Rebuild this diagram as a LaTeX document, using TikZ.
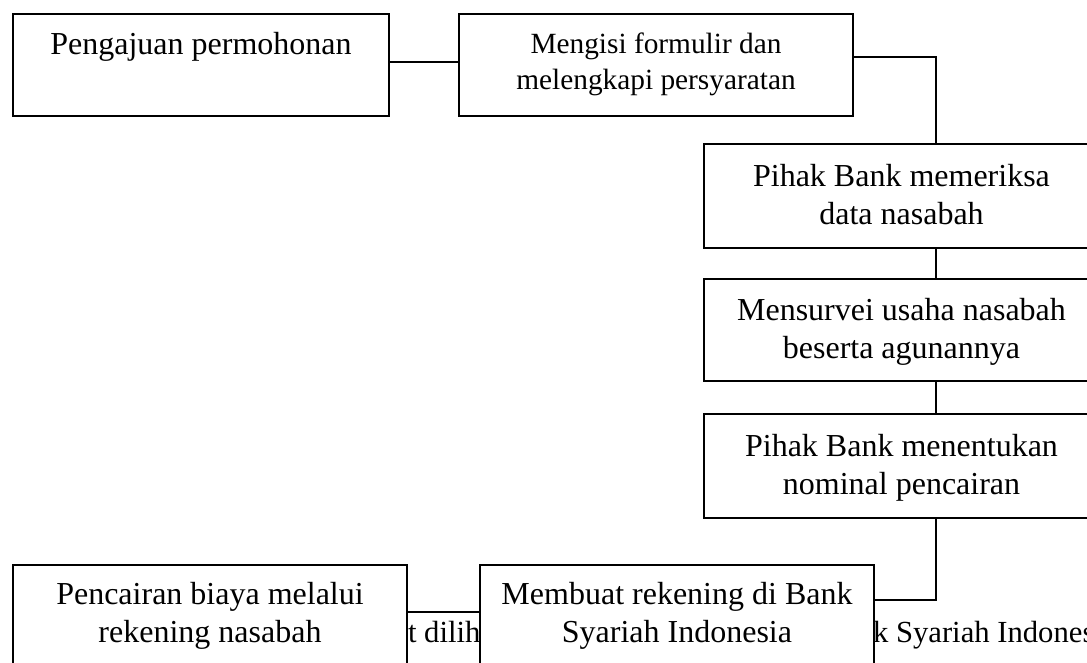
\documentclass[tikz,border=0pt]{standalone}
\usepackage{fontspec}
\setmainfont{Liberation Serif}
\tikzset{every picture/.style={line width=1.5pt}}
\tikzset{
  flowbox/.style={draw, fill=white, inner sep=0pt, anchor=north west,
    font=\fontsize{24pt}{29pt}\selectfont},
  bgtext/.style={inner sep=0pt, anchor=base west,
    font=\fontsize{23pt}{28pt}\selectfont}
}
% width, height, first baseline, text
\newcommand{\boxlines}[4]{\parbox[t][#2][t]{#1}{\centering\rule{0pt}{#3}#4}}

\begin{document}
\begin{tikzpicture}[x=0.75pt,y=0.75pt,yscale=-1,xscale=1]
\useasboundingbox (0,0) rectangle (1087,662);
\clip (0,0) rectangle (1087,662);

% Text Node (body text behind the boxes)
\node[bgtext] (sisa1) at (407,642) {t dilih};
% Text Node
\node[bgtext] (sisa2) at (872,642) {k Syariah Indonesia};

%Shape: Rectangle
\node[flowbox] (ajuan) at (12,13) {\boxlines{282pt}{76.5pt}{30pt}{Pengajuan permohonan}};
%Shape: Rectangle
\node[flowbox, font=\fontsize{22pt}{27pt}\selectfont] (formulir) at (458,13)
  {\boxlines{295.5pt}{76.5pt}{29.25pt}{Mengisi formulir dan\\melengkapi persyaratan}};
%Shape: Rectangle
\node[flowbox] (periksa) at (703,143) {\boxlines{296.25pt}{78pt}{31.5pt}{Pihak Bank memeriksa\\data nasabah}};
%Shape: Rectangle
\node[flowbox] (survei) at (703,278) {\boxlines{296.25pt}{76.5pt}{30.75pt}{Mensurvei usaha nasabah\\beserta agunannya}};
%Shape: Rectangle
\node[flowbox] (nominal) at (703,413) {\boxlines{296.25pt}{78pt}{31.5pt}{Pihak Bank menentukan\\nominal pencairan}};
%Shape: Rectangle
\node[flowbox] (cair) at (12,564) {\boxlines{295.5pt}{78pt}{29.25pt}{Pencairan biaya melalui\\rekening nasabah}};
%Shape: Rectangle
\node[flowbox] (rekening) at (479,564) {\boxlines{295.5pt}{78pt}{29.25pt}{Membuat rekening di Bank\\Syariah Indonesia}};

% connector levels
\coordinate (atas) at (0,62);
\coordinate (tulang) at (936,57);
\coordinate (belok) at (936,600);
\coordinate (bawah) at (0,612);

%Straight Lines
\draw (ajuan.east |- atas) -- (formulir.west |- atas);
%Straight Lines
\draw (formulir.east |- tulang) -| (periksa.north -| tulang);
%Straight Lines
\draw (periksa.south -| tulang) -- (survei.north -| tulang);
%Straight Lines
\draw (survei.south -| tulang) -- (nominal.north -| tulang);
%Straight Lines
\draw (nominal.south -| belok) |- (rekening.east |- belok);
%Straight Lines
\draw (cair.east |- bawah) -- (rekening.west |- bawah);

\end{tikzpicture}
\end{document}
